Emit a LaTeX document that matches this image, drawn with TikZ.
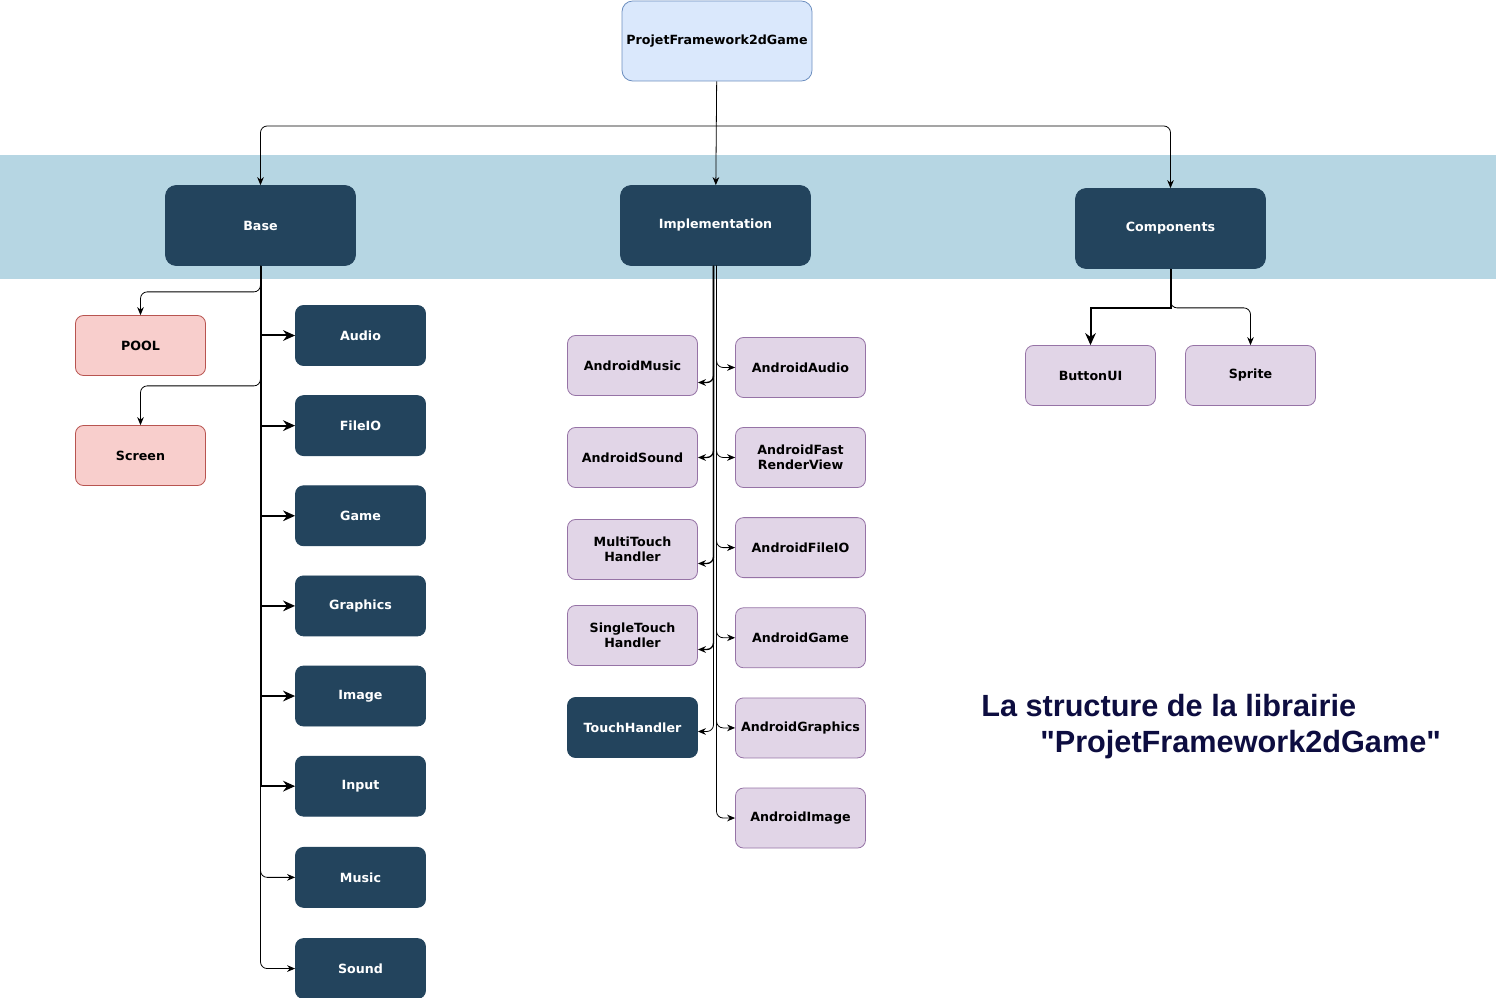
\documentclass[tikz,border=0pt]{standalone}
\usepackage{fontspec}
\setmainfont{DejaVu Sans}
\newfontfamily\titlefont{Liberation Sans}
\usepackage{xcolor}
\usetikzlibrary{calc, positioning, arrows.meta}

\definecolor{bandblue}{HTML}{B6D6E3}
\definecolor{darkblue}{HTML}{23445D}
\definecolor{rootfill}{HTML}{DAE8FC}
\definecolor{rootline}{HTML}{6C8EBF}
\definecolor{lilac}{HTML}{E1D5E7}
\definecolor{lilacline}{HTML}{9673A6}
\definecolor{rosefill}{HTML}{F8CECC}
\definecolor{roseline}{HTML}{B85450}
\definecolor{titleblue}{HTML}{0D0D40}

\begin{document}
\begin{tikzpicture}[x=0.75pt,y=-0.75pt,
                    box/.style={rectangle,rounded corners=6pt,minimum width=97.5pt,minimum height=45pt,
                                align=center,inner sep=2pt,line width=0.6pt,
                                font=\bfseries\fontsize{9.5}{11}\selectfont},
                    dark node/.style={box,fill=darkblue,draw=darkblue,text=white},
                    main node/.style={dark node,minimum width=142.5pt,minimum height=60pt,rounded corners=8pt},
                    root node/.style={box,fill=rootfill,draw=rootline,minimum width=142.5pt,minimum height=60pt,rounded corners=8pt},
                    lib node/.style={box,fill=lilac,draw=lilacline},
                    util node/.style={box,fill=rosefill,draw=roseline},
                    link/.style={-{Stealth[length=6pt,width=5pt]},line width=0.6pt,rounded corners=5pt},
                    trunk link/.style={link,line width=1pt},
                    strong link/.style={-{Stealth[length=9pt,width=8pt]},line width=1.5pt}]

 \useasboundingbox (0,0) rectangle (1496,998);

 % band behind the three modules
 \fill[bandblue] (0,155) rectangle (1496,279);

 \node[root node] (root) at (717,41) {ProjetFramework2dGame};

 \node[main node] (base) at (260.5,225.5) {Base};
 \node[main node] (impl) at (715.5,225.5) {Implementation};
 \node[main node] (comp) at (1170.5,228.5) {Components};

 % Base
 \node[dark node] (audio) at (360.5,335.5) {Audio};
 \node[dark node] (fileio) [below=22pt of audio] {FileIO};
 \node[dark node] (game) [below=22pt of fileio] {Game};
 \node[dark node] (graphics) [below=22pt of game] {Graphics};
 \node[dark node] (image) [below=22pt of graphics] {Image};
 \node[dark node] (input) [below=22pt of image] {Input};
 \node[dark node] (music) [below=22.8pt of input] {Music};
 \node[dark node] (sound) [below=22.8pt of music] {Sound};

 \node[util node] (pool) at (140.5,345.5) {POOL};
 \node[util node] (screen) at (140.5,455.5) {Screen};

 % Implementation
 \node[lib node] (amusic) at (632.5,365.5) {AndroidMusic};
 \node[lib node] (asound) at (632.5,457.5) {AndroidSound};
 \node[lib node] (multi) at (632.5,549.5) {MultiTouch\\Handler};
 \node[lib node] (single) at (632.5,635.5) {SingleTouch\\Handler};
 \node[dark node] (touch) at (632.5,727.5) {TouchHandler};

 \node[lib node] (aaudio) at (800.5,367.5) {AndroidAudio};
 \node[lib node] (afast) at (800.5,457.5) {AndroidFast\\RenderView};
 \node[lib node] (afileio) [below=22pt of afast] {AndroidFileIO};
 \node[lib node] (agame) [below=22pt of afileio] {AndroidGame};
 \node[lib node] (agraphics) [below=22pt of agame] {AndroidGraphics};
 \node[lib node] (aimage) [below=22pt of agraphics] {AndroidImage};

 % Components
 \node[lib node] (button) at (1090.5,375.5) {ButtonUI};
 \node[lib node] (sprite) at (1250.5,375.5) {Sprite};

 % from the root
 \coordinate (split) at (717,126);
 \draw[link] (root) -- (impl);
 \draw[link] (split) -| (base);
 \draw[link] (split) -| (comp);

 \foreach \n in {audio,fileio,game,graphics,image,input}
   \draw[strong link] (base.south) |- (\n.west);
 \foreach \n in {music,sound}
   \draw[link] (base.south) |- (\n.west);

 \draw[link] (base.south) -- ++(0,26) -| (pool.north);
 \draw[link] (base.south) -- ++(0,120) -| (screen.north);

 \draw[trunk link] ($(impl.south)+(-2,0)$) |- ($(amusic.east)+(0,17)$);
 \draw[trunk link] ($(impl.south)+(-2,0)$) |- (asound.east);
 \draw[trunk link] ($(impl.south)+(-2,0)$) |- ($(multi.east)+(0,14)$);
 \draw[trunk link] ($(impl.south)+(-2,0)$) |- ($(single.east)+(0,14)$);
 \draw[link] ($(impl.south)+(-2,0)$) |- ($(touch.east)+(0,4)$);

 \foreach \n in {aaudio,afast,afileio,agame,agraphics,aimage}
   \draw[link] ($(impl.south)+(1,0)$) |- (\n.west);

 \draw[strong link] (comp.south) -- ++(0,39) -| (button.north);
 \draw[link] (comp.south) -- ++(0,39) -| (sprite.north);

 % title
 \node[anchor=base west,inner sep=0pt,text=titleblue,font=\titlefont\bfseries\fontsize{23}{28}\selectfont]
   (title1) at (981,716) {La structure de la librairie};
 \node[anchor=base west,inner sep=0pt,text=titleblue,font=\titlefont\bfseries\fontsize{23}{28}\selectfont]
   (title2) at (1040,752) {"ProjetFramework2dGame"};

\end{tikzpicture}
\end{document}
